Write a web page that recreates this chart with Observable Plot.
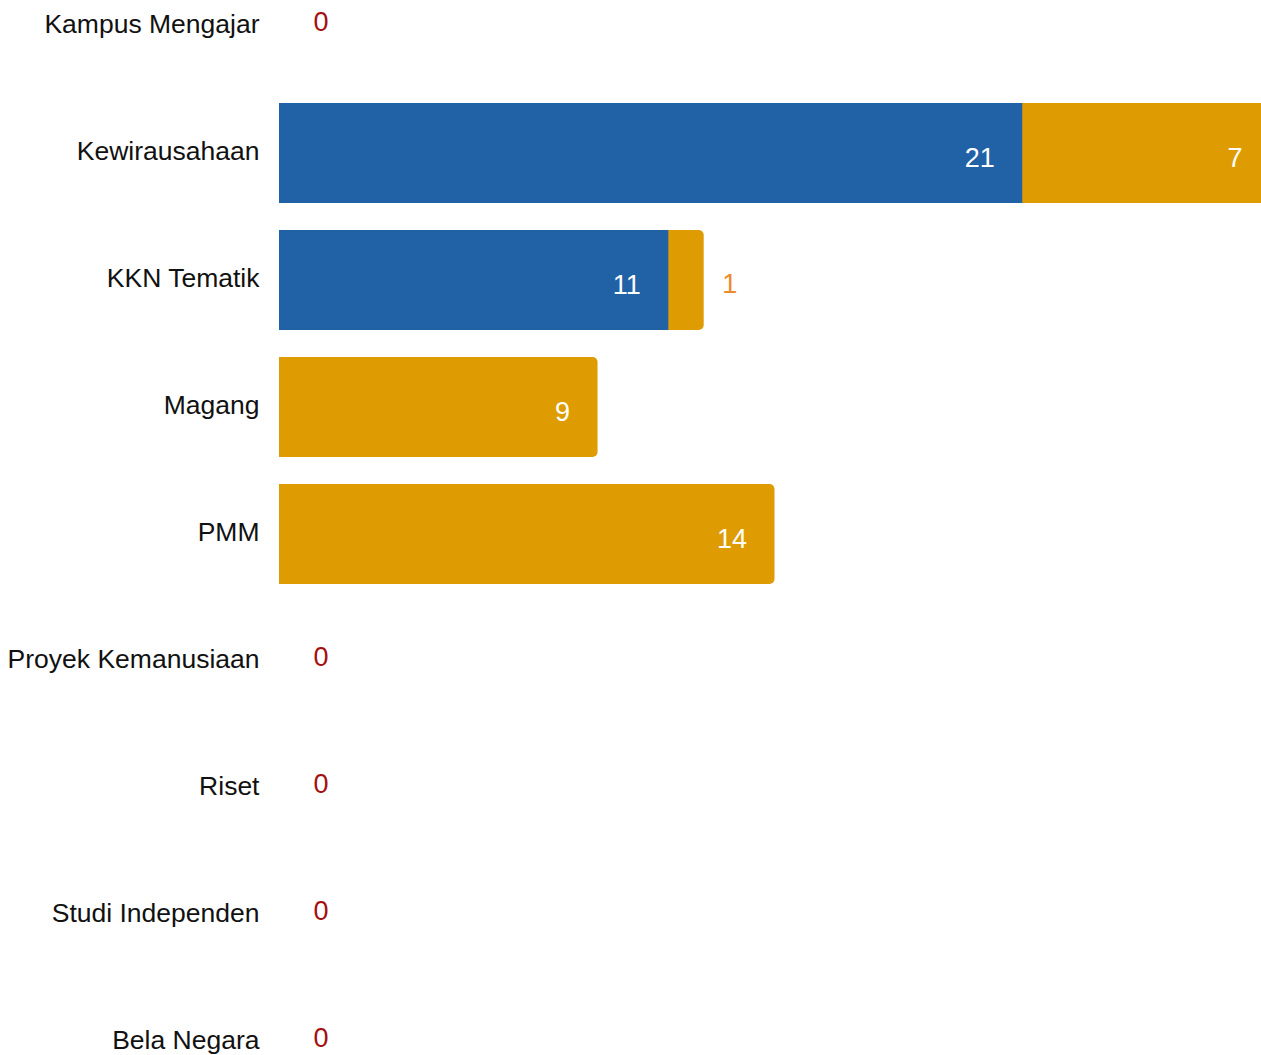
<!DOCTYPE html>
<html>
<head>
<meta charset="utf-8">
<script src="https://cdn.jsdelivr.net/npm/d3@7"></script>
<script src="https://cdn.jsdelivr.net/npm/@observablehq/plot@0.6"></script>
<style>
  html, body { margin: 0; padding: 0; background: #fff; overflow: hidden; }
  #chart svg { display: block; }
</style>
</head>
<body>
<div id="chart"></div>
<script>
const categories = ["Kampus Mengajar", "Kewirausahaan", "KKN Tematik", "Magang", "PMM", "Proyek Kemanusiaan", "Riset", "Studi Independen", "Bela Negara"];
const blueValues = [0, 21, 11, 0, 0, 0, 0, 0, 0];
const orangeValues = [0, 7, 1, 9, 14, 0, 0, 0, 0];

const BLUE = "#2161a6";
const ORANGE = "#de9c02";
const ZERO_RED = "#a50f0f";
const OUT_ORANGE = "#ec8a2c";

const rows = categories.map((c, i) => ({
  cat: c, blue: blueValues[i], orange: orangeValues[i], total: blueValues[i] + orangeValues[i]
}));

const inside = [];
const outside = [];
rows.forEach(r => {
  if (r.blue > 0) (r.blue >= 2 ? inside : outside).push({cat: r.cat, end: r.blue, label: String(r.blue), total: r.total});
  if (r.orange > 0) (r.orange >= 2 ? inside : outside).push({cat: r.cat, end: r.total, label: String(r.orange), total: r.total});
});
const zeros = rows.filter(r => r.total === 0);

const font = "'Liberation Sans', Arial, Helvetica, sans-serif";

const chart = Plot.plot({
  width: 1261,
  height: 1055,
  marginLeft: 279,
  marginRight: 0,
  marginTop: 0,
  marginBottom: 0,
  style: {fontFamily: font, fontSize: "26px", color: "#111", background: "#fff"},
  x: {domain: [0, 28], range: [279, 1270], axis: null},
  y: {domain: categories, range: [-51, 1119], paddingInner: 0.2126, paddingOuter: 0.2126, round: false, label: null},
  marks: [
    Plot.axisY({tickSize: 0, tickPadding: 20, fontSize: 26.5, label: null, dy: -2, fill: "#111"}),
    Plot.barX(rows.filter(r => r.orange > 0), {x1: "blue", x2: "total", y: "cat", fill: ORANGE, rx: 5, insetLeft: -12, clip: true}),
    Plot.barX(rows.filter(r => r.blue > 0), {x1: 0, x2: "blue", y: "cat", fill: BLUE, clip: true}),
    Plot.text(inside, {x: "end", y: "cat", text: "label", fill: "#fff", textAnchor: "end", dx: -28, dy: 5, fontSize: 27}),
    Plot.text(outside, {x: "total", y: "cat", text: "label", fill: OUT_ORANGE, textAnchor: "start", dx: 18, dy: 4, fontSize: 27}),
    Plot.text(zeros, {x: "total", y: "cat", text: d => "0", fill: ZERO_RED, textAnchor: "start", dx: 34, dy: -4, fontSize: 27})
  ]
});
document.getElementById("chart").appendChild(chart);
</script>
</body>
</html>
